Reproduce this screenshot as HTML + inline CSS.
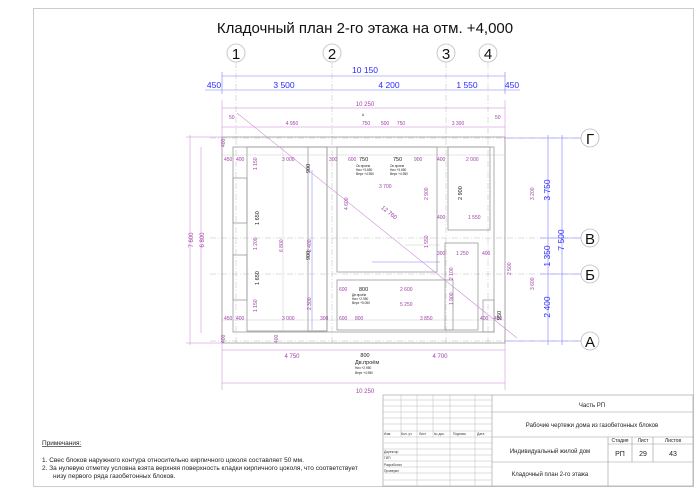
<!DOCTYPE html>
<html><head><meta charset="utf-8"><style>
html,body{margin:0;padding:0;background:#fff;}
svg{display:block;font-family:"Liberation Sans",Arial,sans-serif;}
.m{fill:#a040a8;font-size:6px;}
.ms{fill:#a040a8;font-size:5px;}
.b{fill:#2a2aff;font-size:8.5px;}
.k{fill:#222;font-size:3.2px;}
.kb{fill:#222;font-size:5.5px;}
.t{fill:#222;font-size:6.5px;}
</style></head><body>
<svg width="700" height="495" viewBox="0 0 700 495" xmlns="http://www.w3.org/2000/svg">
<!-- frame -->
<rect x="33.5" y="8.5" width="660" height="478" fill="none" stroke="#ccc" stroke-width="1"/>
<text x="365" y="33" text-anchor="middle" font-size="15" fill="#111">Кладочный план 2-го этажа на отм. +4,000</text>
<!-- axis circles top -->
<g fill="#fff" stroke="#bbb" stroke-width="0.8">
<circle cx="236" cy="53" r="9"/><circle cx="332" cy="53" r="9"/><circle cx="446" cy="53" r="9"/><circle cx="488" cy="53" r="9"/>
<circle cx="590" cy="138" r="9"/><circle cx="590" cy="238" r="9"/><circle cx="590" cy="274" r="9"/><circle cx="590" cy="341" r="9"/>
</g>
<g font-size="15" fill="#111" text-anchor="middle">
<text x="236" y="59">1</text><text x="332" y="59">2</text><text x="446" y="59">3</text><text x="488" y="59">4</text>
<text x="590" y="144">Г</text><text x="590" y="244">В</text><text x="590" y="280">Б</text><text x="590" y="347">А</text>
</g>
<!-- axis lines -->
<g stroke="#bbb" stroke-width="0.5" stroke-dasharray="6,2,1,2">
<line x1="236" y1="62" x2="236" y2="345"/><line x1="332" y1="62" x2="332" y2="345"/><line x1="446" y1="62" x2="446" y2="345"/><line x1="488" y1="62" x2="488" y2="345"/>
<line x1="210" y1="138" x2="581" y2="138"/><line x1="210" y1="238" x2="581" y2="238"/><line x1="210" y1="274" x2="581" y2="274"/><line x1="210" y1="341" x2="581" y2="341"/>
</g>
<!-- top dims -->
<g stroke="#7f7fff" stroke-width="0.6">
<line x1="222" y1="76" x2="505" y2="76"/><line x1="205" y1="90" x2="520" y2="90"/>
<line x1="222" y1="72" x2="222" y2="94"/><line x1="505" y1="72" x2="505" y2="94"/>
</g>
<text class="b" x="365" y="73" text-anchor="middle">10 150</text>
<text class="b" x="214" y="88" text-anchor="middle">450</text>
<text class="b" x="284" y="88" text-anchor="middle">3 500</text>
<text class="b" x="389" y="88" text-anchor="middle">4 200</text>
<text class="b" x="467" y="88" text-anchor="middle">1 550</text>
<text class="b" x="512" y="88" text-anchor="middle">450</text>
<!-- magenta dims -->
<g stroke="#d080d8" stroke-width="0.5" fill="none">
<line x1="222" y1="108" x2="505" y2="108"/><line x1="222" y1="127" x2="505" y2="127"/>
<line x1="222" y1="350" x2="505" y2="350"/><line x1="222" y1="383" x2="505" y2="383"/>
<line x1="190" y1="135" x2="190" y2="345"/><line x1="201" y1="147" x2="201" y2="333"/>
<line x1="186" y1="137" x2="222" y2="137"/><line x1="186" y1="343" x2="222" y2="343"/>
<line x1="222" y1="100" x2="222" y2="390"/><line x1="505" y1="100" x2="505" y2="390"/>
</g>
<text class="m" x="365" y="106" text-anchor="middle">10 250</text>
<text class="ms" x="229" y="119">50</text>
<text class="ms" x="292" y="125" text-anchor="middle">4 950</text>
<text class="ms" x="366" y="125" text-anchor="middle">750</text>
<text class="ms" x="385" y="125" text-anchor="middle">500</text>
<text class="ms" x="401" y="125" text-anchor="middle">750</text>
<text class="ms" x="458" y="125" text-anchor="middle">3 300</text>
<text class="ms" x="495" y="119">50</text>
<text class="k" x="362" y="116" font-size="5">A</text>
<text class="m" x="292" y="358" text-anchor="middle">4 750</text>
<text class="kb" x="365" y="357" text-anchor="middle">800</text>
<text class="m" x="440" y="358" text-anchor="middle">4 700</text>
<text class="kb" x="355" y="364" font-size="4">Дв.проём</text>
<text class="k" x="355" y="369">Низ  +2.950</text>
<text class="k" x="355" y="374">Верх +4.950</text>
<text class="m" x="365" y="393" text-anchor="middle" font-size="8">10 250</text>
<text class="m" transform="translate(193,240) rotate(-90)" text-anchor="middle">7 600</text>
<text class="m" transform="translate(204,240) rotate(-90)" text-anchor="middle">6 800</text>
<!-- building walls -->
<g fill="none" stroke="#999" stroke-width="0.8">
<rect x="222" y="137" width="283" height="206"/>
<rect x="233" y="147" width="261" height="185"/>
<rect x="247" y="147" width="80" height="184"/>
<rect x="308" y="147" width="19" height="184"/>
<rect x="337" y="147" width="100" height="125"/>
<rect x="448" y="147" width="42" height="83"/>
<rect x="337" y="280" width="116" height="50"/>
<rect x="445" y="243" width="33" height="87"/>
<rect x="233" y="178" width="14" height="45"/>
<rect x="233" y="255" width="14" height="45"/>
<rect x="483" y="300" width="11" height="32"/>
</g>
<g stroke="#bbb" stroke-width="0.4">
<line x1="222" y1="155" x2="505" y2="155"/><line x1="222" y1="320" x2="505" y2="320"/>
<line x1="283" y1="147" x2="283" y2="331"/><line x1="405" y1="245" x2="440" y2="245"/>
</g>
<g stroke="#7f7fff" stroke-width="0.5"><line x1="312" y1="170" x2="312" y2="330"/><line x1="372" y1="262" x2="440" y2="262"/></g>
<line x1="237" y1="113" x2="517" y2="338" stroke="#d090d8" stroke-width="0.6"/>
<text class="m" transform="translate(388,214) rotate(38)" font-size="8" text-anchor="middle">12 760</text>
<!-- interior dim labels -->
<g class="ms">
<text x="224" y="161">450</text><text x="236" y="161">400</text><text x="282" y="161">3 000</text>
<text x="329" y="161">300</text><text x="348" y="161">600</text><text x="414" y="161">900</text><text x="437" y="161">400</text><text x="466" y="161">2 000</text>
<text x="379" y="188">3 700</text><text x="437" y="219">400</text><text x="468" y="219">1 550</text>
<text x="437" y="255">300</text><text x="456" y="255">1 250</text><text x="482" y="255">400</text>
<text x="339" y="291">600</text><text x="400" y="291">2 600</text><text x="400" y="306">5 250</text>
<text x="224" y="320">450</text><text x="236" y="320">400</text><text x="282" y="320">3 000</text>
<text x="320" y="320">300</text><text x="339" y="320">600</text><text x="355" y="320">800</text><text x="420" y="320">3 850</text>
<text x="480" y="320">400</text><text x="494" y="320">450</text>
</g>
<g class="kb">
<text x="359" y="161">750</text><text x="393" y="161">750</text><text x="359" y="291">800</text>
</g>
<g class="k">
<text x="356" y="167">Ок.проем</text><text x="356" y="171">Низ +3.650</text><text x="356" y="175">Верх +4.950</text>
<text x="390" y="167">Ок.проем</text><text x="390" y="171">Низ +3.650</text><text x="390" y="175">Верх +4.950</text>
<text x="352" y="296">Дв.проём</text><text x="352" y="300">Низ +2.950</text><text x="352" y="304">Верх +5.050</text>
</g>
<g class="ms">
<text transform="translate(225,147) rotate(-90)">400</text>
<text transform="translate(257,170) rotate(-90)">1 150</text>
<text transform="translate(257,250) rotate(-90)">1 200</text>
<text transform="translate(257,312) rotate(-90)">1 150</text>
<text transform="translate(283,252) rotate(-90)">6 800</text>
<text transform="translate(311,252) rotate(-90)">2 400</text>
<text transform="translate(311,310) rotate(-90)">2 300</text>
<text transform="translate(348,210) rotate(-90)">4 600</text>
<text transform="translate(428,200) rotate(-90)">2 900</text>
<text transform="translate(428,248) rotate(-90)">1 550</text>
<text transform="translate(453,280) rotate(-90)">2 100</text>
<text transform="translate(453,305) rotate(-90)">1 900</text>
<text transform="translate(511,275) rotate(-90)">2 500</text>
<text transform="translate(534,200) rotate(-90)">3 200</text>
<text transform="translate(534,290) rotate(-90)">3 600</text>
<text transform="translate(225,343) rotate(-90)">400</text>
<text transform="translate(278,343) rotate(-90)">400</text>
</g>
<g class="kb">
<text transform="translate(259,225) rotate(-90)">1 650</text>
<text transform="translate(259,285) rotate(-90)">1 650</text>
<text transform="translate(310,173) rotate(-90)">900</text>
<text transform="translate(310,260) rotate(-90)">900</text>
<text transform="translate(462,200) rotate(-90)">2 900</text>
<text transform="translate(501,320) rotate(-90)">950</text>
</g>
<!-- right dims -->
<g stroke="#7f7fff" stroke-width="0.6">
<line x1="548" y1="135" x2="548" y2="345"/><line x1="562" y1="135" x2="562" y2="345"/>
<line x1="505" y1="138" x2="581" y2="138"/><line x1="505" y1="341" x2="581" y2="341"/>
<line x1="540" y1="238" x2="581" y2="238"/><line x1="540" y1="274" x2="581" y2="274"/>
</g>
<g class="b">
<text transform="translate(550,190) rotate(-90)" text-anchor="middle">3 750</text>
<text transform="translate(564,240) rotate(-90)" text-anchor="middle">7 500</text>
<text transform="translate(550,256) rotate(-90)" text-anchor="middle">1 350</text>
<text transform="translate(550,307) rotate(-90)" text-anchor="middle">2 400</text>
</g>
<!-- notes -->
<text class="t" x="42" y="445" font-size="7" text-decoration="underline">Примечания:</text>
<text class="t" x="42" y="462">1.   Свес блоков наружного контура относительно кирпичного цоколя составляет 50 мм.</text>
<text class="t" x="42" y="470">2.   За нулевую отметку условна взята верхняя поверхность кладки кирпичного цоколя, что соответствует</text>
<text class="t" x="53" y="478">низу первого ряда газобетонных блоков.</text>
<!-- title block -->
<g fill="none" stroke="#999" stroke-width="0.6">
<rect x="383" y="395" width="310" height="91"/>
<line x1="492" y1="395" x2="492" y2="486"/>
<line x1="492" y1="412" x2="693" y2="412"/><line x1="492" y1="437" x2="693" y2="437"/><line x1="492" y1="462" x2="693" y2="462"/>
<line x1="608" y1="437" x2="608" y2="462"/><line x1="632" y1="437" x2="632" y2="462"/><line x1="653" y1="437" x2="653" y2="462"/>
<line x1="608" y1="444" x2="693" y2="444"/>
<line x1="608" y1="462" x2="608" y2="486"/>
</g>
<g stroke="#bbb" stroke-width="0.5">
<line x1="383" y1="400" x2="492" y2="400"/><line x1="383" y1="406" x2="492" y2="406"/><line x1="383" y1="412" x2="492" y2="412"/>
<line x1="383" y1="418" x2="492" y2="418"/><line x1="383" y1="424" x2="492" y2="424"/><line x1="383" y1="431" x2="492" y2="431"/>
<line x1="383" y1="437" x2="492" y2="437"/><line x1="383" y1="443" x2="492" y2="443"/><line x1="383" y1="449" x2="492" y2="449"/>
<line x1="383" y1="455" x2="492" y2="455"/><line x1="383" y1="461" x2="492" y2="461"/><line x1="383" y1="467" x2="492" y2="467"/>
<line x1="383" y1="473" x2="492" y2="473"/><line x1="383" y1="480" x2="492" y2="480"/>
<line x1="401" y1="395" x2="401" y2="437"/><line x1="417" y1="395" x2="417" y2="437"/><line x1="433" y1="395" x2="433" y2="437"/>
<line x1="450" y1="395" x2="450" y2="486"/><line x1="475" y1="395" x2="475" y2="486"/><line x1="401" y1="437" x2="401" y2="486" stroke-opacity="0"/>
<line x1="417" y1="437" x2="417" y2="486"/>
</g>
<g fill="#333" font-size="3.3">
<text x="384" y="435">Изм.</text><text x="401" y="435">Кол. уч</text><text x="419" y="435">Лист</text><text x="434" y="435">№ док.</text><text x="453" y="435">Подпись</text><text x="477" y="435">Дата</text>
<text x="384" y="453">Директор</text><text x="384" y="459">ГИП</text><text x="384" y="466">Разработал</text><text x="384" y="472">Проверил</text>
</g>
<g fill="#222" font-size="6" text-anchor="middle">
<text x="592" y="407">Часть РП</text>
<text x="592" y="427">Рабочие чертежи дома из газобетонных блоков</text>
<text x="550" y="453">Индивидуальный жилой дом</text>
<text x="550" y="476">Кладочный план 2-го этажа</text>
<text x="620" y="442" font-size="5">Стадия</text><text x="643" y="442" font-size="5">Лист</text><text x="673" y="442" font-size="5">Листов</text>
<text x="620" y="456" font-size="7">РП</text><text x="643" y="456" font-size="7">29</text><text x="673" y="456" font-size="7">43</text>
</g>
</svg>
</body></html>
